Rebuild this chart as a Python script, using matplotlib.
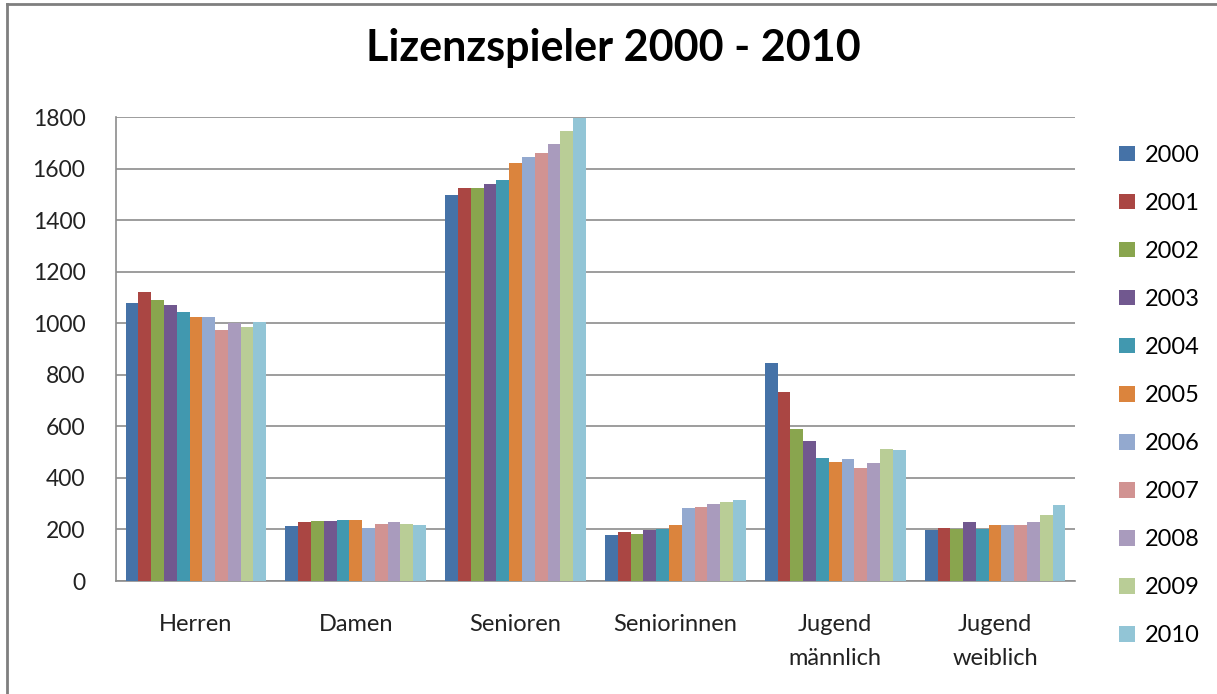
import matplotlib.pyplot as plt
from matplotlib.lines import Line2D
import numpy as np

categories = ["Herren", "Damen", "Senioren", "Seniorinnen", "Jugend\nmännlich", "Jugend\nweiblich"]
years = ["2000", "2001", "2002", "2003", "2004", "2005", "2006", "2007", "2008", "2009", "2010"]

# one list per category, values for 2000..2010
herren = [1080, 1120, 1090, 1070, 1045, 1025, 1025, 975, 1000, 987, 1006]
damen = [212, 228, 233, 232, 238, 236, 207, 222, 228, 222, 217]
senioren = [1497, 1526, 1526, 1542, 1556, 1622, 1645, 1661, 1695, 1745, 1797]
seniorinnen = [178, 192, 182, 197, 200, 217, 283, 288, 299, 308, 313]
jugend_m = [845, 735, 591, 543, 478, 462, 473, 439, 456, 512, 508]
jugend_w = [199, 207, 201, 228, 200, 217, 217, 217, 228, 258, 293]

colors = ["#4572A7", "#AA4643", "#89A54E", "#71588F", "#4198AF", "#DB843D",
          "#93A9CF", "#D19392", "#A99BBD", "#B9CD96", "#92C5D6"]

data = np.array([herren, damen, senioren, seniorinnen, jugend_m, jugend_w])

plt.rcParams['font.family'] = ['Lato', 'DejaVu Sans']

fig = plt.figure(figsize=(12.17, 6.94), dpi=100)
ax = fig.add_axes([0.0953, 0.1628, 0.788, 0.6686])

x = np.arange(len(categories))
n = len(years)
w = 0.88 / n
for i, yr in enumerate(years):
    ax.bar(x - 0.44 + w * (i + 0.5), data[:, i], width=w, color=colors[i], label=yr, zorder=3)

ax.set_xlim(-0.5, len(categories) - 0.5)
ax.set_ylim(0, 1800)
ax.set_yticks(range(0, 1801, 200))
ax.yaxis.grid(True, color="#8c8c8c", linewidth=1.2, zorder=0)
ax.set_axisbelow(True)
ax.set_xticks(x)
ax.set_xticklabels(categories, fontsize=17, color="#222222", linespacing=1.75)
ax.tick_params(axis="x", length=0, pad=24)
ax.tick_params(axis="y", length=0, pad=22, labelsize=16.5, labelcolor="#222222")
for s in ["top", "right"]:
    ax.spines[s].set_visible(False)
for s in ["left", "bottom"]:
    ax.spines[s].set_color("#8c8c8c")
    ax.spines[s].set_linewidth(1.2)

ax.legend(loc="center left", bbox_to_anchor=(1.024, 0.40), frameon=False, fontsize=17,
          handlelength=0.65, handleheight=0.65, handletextpad=0.45, labelspacing=1.145)

fig.suptitle("Lizenzspieler 2000 - 2010", fontsize=31, fontweight="bold", y=0.96, x=0.504)

# outer chart frame (only left and top visible in the crop)
fig.add_artist(Line2D([0.006, 0.006], [0, 0.994], transform=fig.transFigure, color="#7f7f7f", linewidth=2))
fig.add_artist(Line2D([0.006, 1], [0.994, 0.994], transform=fig.transFigure, color="#7f7f7f", linewidth=2))

fig.savefig("out.png", dpi=100)
